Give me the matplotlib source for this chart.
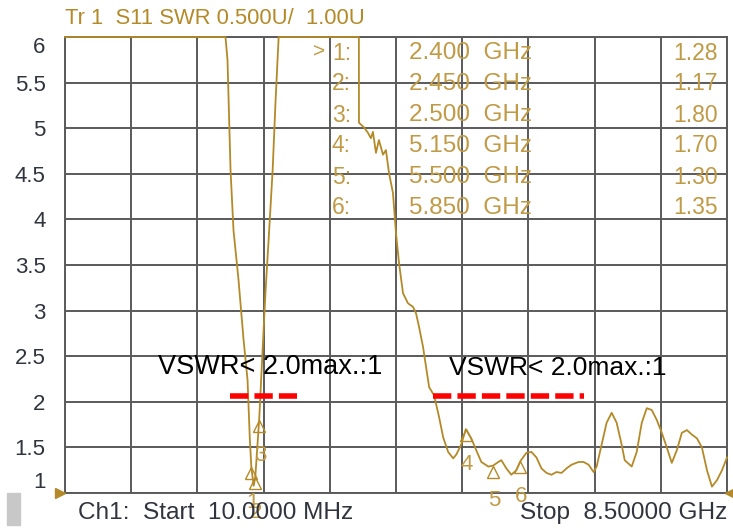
import matplotlib.pyplot as plt
from matplotlib.transforms import offset_copy
import numpy as np

plt.rcParams['font.family'] = ['Liberation Sans', 'DejaVu Sans']

# --- trace data: S11 SWR vs frequency (GHz), analyzer clips the trace at 6 ---
freq_ghz = [0.01, 2.068, 2.094, 2.133, 2.171, 2.235, 2.30, 2.351, 2.38, 2.40,
            2.43, 2.45, 2.50, 2.557, 2.583, 2.621, 2.673, 2.711, 2.75, 3.70,
            3.779, 3.78, 3.843, 3.895, 3.933, 3.959, 3.998, 4.036, 4.088, 4.126,
            4.165, 4.216, 4.255, 4.294, 4.345, 4.409, 4.474, 4.512, 4.551, 4.602,
            4.641, 4.680, 4.744, 4.808, 4.860, 4.924, 4.988, 5.027, 5.091, 5.15,
            5.220, 5.284, 5.349, 5.439, 5.50, 5.567, 5.606, 5.670, 5.734, 5.799,
            5.85, 5.927, 5.992, 6.056, 6.120, 6.185, 6.249, 6.313, 6.378, 6.442,
            6.506, 6.596, 6.661, 6.725, 6.789, 6.828, 6.892, 6.956, 7.021, 7.085,
            7.149, 7.188, 7.278, 7.342, 7.407, 7.471, 7.535, 7.600, 7.664, 7.728,
            7.792, 7.857, 7.921, 7.986, 8.050, 8.114, 8.178, 8.243, 8.307, 8.371,
            8.436, 8.50]
swr = [6.0, 6.0, 5.75, 4.54, 3.88, 3.34, 2.68, 2.24, 1.60, 1.28,
       1.08, 1.17, 1.80, 2.79, 3.23, 3.77, 4.54, 5.31, 6.0, 6.0,
       6.0, 5.06, 5.01, 4.95, 4.89, 4.96, 4.73, 4.87, 4.71, 4.76,
       4.51, 4.29, 3.85, 3.52, 3.19, 3.08, 3.04, 2.97, 2.82, 2.60,
       2.38, 2.16, 2.07, 1.83, 1.61, 1.45, 1.38, 1.42, 1.53, 1.70,
       1.60, 1.47, 1.34, 1.29, 1.30, 1.34, 1.36, 1.27, 1.20, 1.25,
       1.35, 1.44, 1.45, 1.39, 1.27, 1.22, 1.20, 1.23, 1.22, 1.27,
       1.31, 1.34, 1.34, 1.31, 1.23, 1.29, 1.53, 1.77, 1.88, 1.77,
       1.53, 1.36, 1.29, 1.45, 1.77, 1.93, 1.91, 1.80, 1.66, 1.50,
       1.33, 1.47, 1.66, 1.69, 1.64, 1.60, 1.50, 1.25, 1.07, 1.14,
       1.25, 1.39]

# markers
marker_ids = ['1', '2', '3', '4', '5', '6']
marker_freq = [2.400, 2.450, 2.500, 5.150, 5.500, 5.850]
marker_swr = [1.28, 1.17, 1.80, 1.70, 1.30, 1.35]

# VSWR < 2 spec bands (GHz) and annotation
spec_bands = [(2.13, 2.98), (4.73, 6.67)]
spec_level = 2.06
spec_text = 'VSWR< 2.0max.:1'

y_ticks = [1, 1.5, 2, 2.5, 3, 3.5, 4, 4.5, 5, 5.5, 6]
y_labels = ['1', '1.5', '2', '2.5', '3', '3.5', '4', '4.5', '5', '5.5', '6']

f_start, f_stop = 0.01, 8.5

W, H = 733, 530
gold = '#b48a28'
gold_txt = '#c09a45'
grid_c = '#5a5a5a'
dark = '#30343f'


def px(x, y):
    # pixel position -> figure fraction
    return x / W, 1 - y / H


fig = plt.figure(figsize=(W / 100, H / 100), dpi=100)
ax = fig.add_axes([65 / W, 1 - 493 / H, 662 / W, 456 / H])

ax.set_xlim(f_start, f_stop)
ax.set_ylim(1, 6)
ax.set_xticks(np.linspace(f_start, f_stop, 11))
ax.set_xticklabels([])
ax.set_yticks(y_ticks)
ax.set_yticklabels(y_labels, fontsize=16, color=dark)
ax.tick_params(length=0, pad=14)
labs = ax.get_yticklabels()
labs[0].set_va('bottom')
labs[-1].set_va('top')
labs[-1].set_y(5.97)
ax.grid(True, color=grid_c, lw=1.4)
for s in ax.spines.values():
    s.set_color(grid_c)
    s.set_linewidth(1.4)

# trace
ax.plot(freq_ghz, swr, color=gold, lw=1.3, clip_on=False, zorder=5)

# markers: open triangles with tip on the trace, number underneath
tri = offset_copy(ax.transData, fig=fig, x=0, y=-6, units='dots')
lab = offset_copy(ax.transData, fig=fig, x=1, y=-35, units='dots')
ax.plot(marker_freq, marker_swr, ls='none', marker='^', ms=9, mfc='none',
        mec=gold, mew=1.0, transform=tri, zorder=6)
for m, f, v in zip(marker_ids, marker_freq, marker_swr):
    ax.text(f, v, m, transform=lab, ha='center', va='center',
            fontsize=16, color=gold_txt, clip_on=False, zorder=6)

# spec lines and annotation
for f0, f1 in spec_bands:
    ax.plot([f0, f1], [spec_level, spec_level], color='#ff0000', lw=4,
            dashes=(3.3, 1.1), solid_capstyle='butt', dash_capstyle='butt',
            zorder=7)
ax.text(1.2, 2.24, spec_text, fontsize=19.5, color='black', va='bottom', zorder=7)
ax.text(4.93, 2.24, spec_text, fontsize=19, color='black', va='bottom', zorder=7)

# reference level arrows
ax.plot([0], [1], marker='>', ms=7, color=gold, clip_on=False, zorder=8,
        transform=offset_copy(ax.transData, fig=fig, x=-4, y=0, units='dots'))
ax.plot([1], [0], marker='<', ms=7, color=gold, clip_on=False, zorder=8,
        transform=offset_copy(ax.transAxes, fig=fig, x=3, y=0, units='dots'))

# marker table
fig.text(*px(313, 52), '>', fontsize=15, color=gold_txt, va='center')
for i, (m, f, v) in enumerate(zip(marker_ids, marker_freq, marker_swr)):
    yy = 53 + i * 31
    fig.text(*px(332, yy), m + ':', fontsize=16.5, color=gold_txt, va='center')
    fig.text(*px(409, yy), f'{f:.3f}  GHz', fontsize=17.5, color=gold_txt,
             va='center')
    fig.text(*px(718, yy), f'{v:.2f}', fontsize=16.5, color=gold_txt,
             va='center', ha='right')

# header and footer
fig.text(*px(65, 18), 'Tr 1  S11 SWR 0.500U/  1.00U', fontsize=15.8,
         color=gold, va='center')
fig.text(*px(78, 513), 'Ch1:  Start  10.0000 MHz', fontsize=17.6, color=dark,
         va='center')
fig.text(*px(727, 513), 'Stop  8.50000 GHz', fontsize=17.6, color=dark,
         va='center', ha='right')
fig.patches.append(plt.Rectangle(px(7, 525), 13 / W, 32 / H, color='#c8c8c8',
                                 transform=fig.transFigure, figure=fig))

fig.savefig('out.png', dpi=100)
